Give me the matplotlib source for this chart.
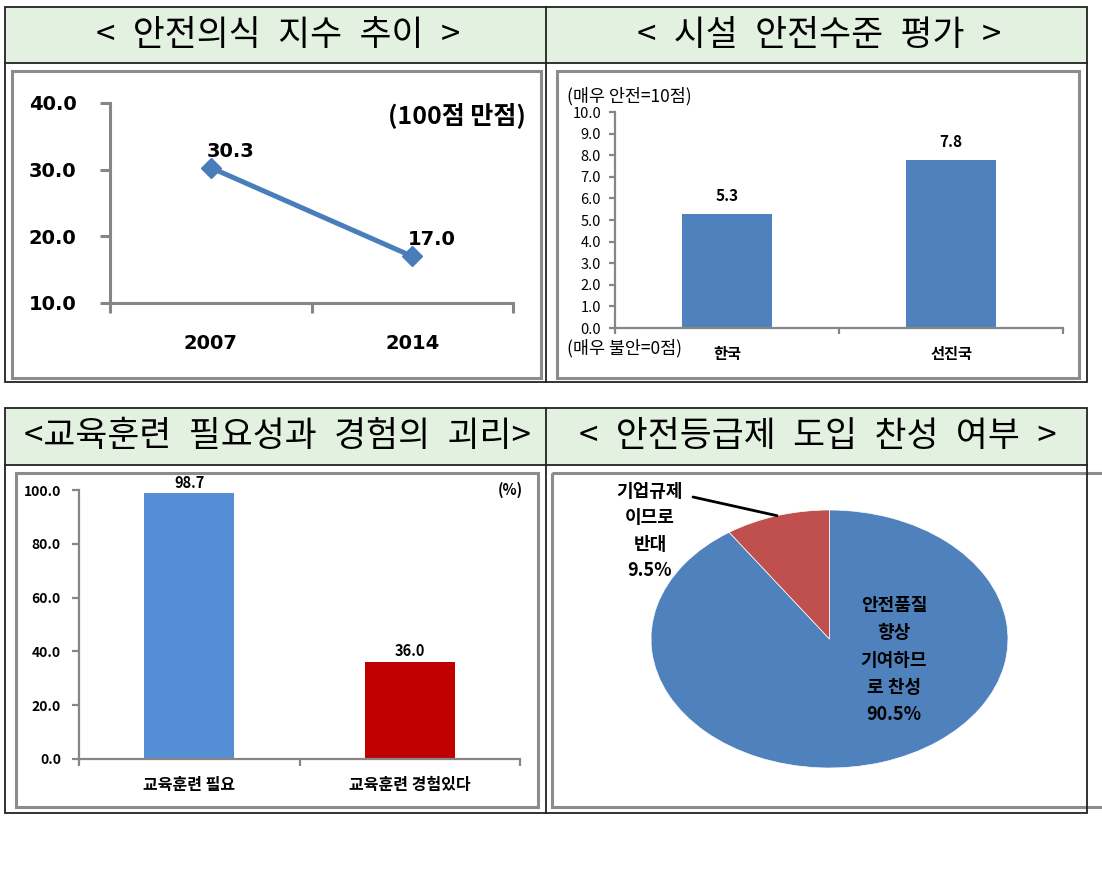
import numpy as np
import matplotlib.pyplot as plt
from matplotlib.patches import Rectangle

plt.rcParams['font.family'] = ['Noto Sans CJK KR', 'DejaVu Sans']

# 안전의식 지수 추이 (100점 만점)
years = ['2007', '2014']
safety_index = [30.3, 17.0]

# 시설 안전수준 평가 (0~10점)
regions = ['한국', '선진국']
facility_score = [5.3, 7.8]

# 교육훈련 필요성과 경험 (%)
training_labels = ['교육훈련 필요', '교육훈련 경험있다']
training_pct = [98.7, 36.0]

# 안전등급제 도입 찬성 여부 (%)
opinion_labels = ['안전품질\n향상\n기여하므\n로 찬성', '기업규제\n이므로\n반대']
opinion_pct = [90.5, 9.5]

W, H = 1102, 871
fig = plt.figure(figsize=(W / 100, H / 100), dpi=100)


def box(x0, y0, x1, y1):
    # axes placed by pixel corners (top-left origin)
    return fig.add_axes([x0 / W, 1 - y1 / H, (x1 - x0) / W, (y1 - y0) / H])


def pixel_layer():
    ax = box(0, 0, W, H)
    ax.set_xlim(0, W)
    ax.set_ylim(H, 0)
    ax.axis('off')
    return ax


bg = pixel_layer()

GREEN = '#E3F1E0'
FRAME = '#8C8C8C'
AXC = '#868686'
LINE = '#222222'
NUM = 'DejaVu Sans'
WIDE = '\u2002'

# table: header bands, grid lines, inner chart frames
for top, mid, bot in [(7, 63, 382), (408, 465, 813)]:
    bg.add_patch(Rectangle((5, top), 1082, mid - top, fc=GREEN, ec='none'))
    bg.add_patch(Rectangle((5, top), 1082, bot - top, fc='none', ec=LINE, lw=1.3, zorder=5))
    bg.plot([5, 1087], [mid, mid], color=LINE, lw=1.3, zorder=5)
    bg.plot([546, 546], [top, bot], color=LINE, lw=1.3, zorder=5)

for x0, y0, x1, y1 in [(12, 71, 541, 378), (557, 71, 1079, 378),
                       (16, 473, 538, 807), (552, 473, 1160, 807)]:
    bg.add_patch(Rectangle((x0, y0), x1 - x0, y1 - y0, fc='none', ec=FRAME, lw=2.2, zorder=4))

titles = [('< 안전의식 지수 추이 >', 278, 35),
          ('< 시설 안전수준 평가 >', 819, 35),
          ('<교육훈련 필요성과 경험의 괴리>', 277, 436),
          ('< 안전등급제 도입 찬성 여부 >', 818, 436)]
for s, x, y in titles:
    bg.text(x, y, s.replace(' ', WIDE), ha='center', va='center', fontsize=25)


def style_axes(ax, lw):
    for side in ['top', 'right']:
        ax.spines[side].set_visible(False)
    for side in ['left', 'bottom']:
        ax.spines[side].set_color(AXC)
        ax.spines[side].set_linewidth(lw)
    ax.set_facecolor('none')


# ---- chart 1: line ----
ax1 = box(110, 103, 513, 303)
style_axes(ax1, 2.2)
x1 = np.arange(len(years))
ax1.plot(x1, safety_index, color='#4A7EBB', lw=3.6, marker='D', ms=10, clip_on=False)
ax1.set_xlim(-0.5, 1.5)
ax1.set_ylim(10, 40)
ax1.set_yticks([10, 20, 30, 40])
ax1.set_yticklabels([f'{v:.1f}' for v in [10, 20, 30, 40]], fontsize=14,
                    fontweight='bold', family=NUM)
ax1.set_xticks([-0.5, 0.5, 1.5])
ax1.set_xticklabels([])
ax1.set_xticks(x1, minor=True)
ax1.set_xticklabels(years, minor=True, fontsize=14, fontweight='bold', family=NUM)
ax1.tick_params(axis='both', which='major', color=AXC, width=2.2, length=7)
ax1.tick_params(axis='y', pad=17)
ax1.tick_params(axis='x', which='minor', length=0, pad=22)
for xi, v in zip(x1, safety_index):
    ax1.annotate(f'{v:.1f}', (xi, v), xytext=(-3, 5), textcoords='offset points',
                 ha='left', va='bottom', fontsize=14, fontweight='bold', family=NUM)
bg.text(526, 116, '(100점 만점)', ha='right', va='center', fontsize=18, fontweight='bold')

# ---- chart 2: bars 0~10 ----
ax2 = box(615, 112, 1063, 328)
style_axes(ax2, 1.6)
x2 = np.arange(len(regions))
ax2.bar(x2, facility_score, width=0.4, color='#4F81BD')
ax2.set_xlim(-0.5, 1.5)
ax2.set_ylim(0, 10)
ticks2 = np.arange(0, 11, 1)
ax2.set_yticks(ticks2)
ax2.set_yticklabels([f'{v:.1f}' for v in ticks2], fontsize=10.5)
ax2.set_xticks([-0.5, 0.5, 1.5])
ax2.set_xticklabels([])
ax2.set_xticks(x2, minor=True)
ax2.set_xticklabels(regions, minor=True, fontsize=11, fontweight='bold')
ax2.tick_params(axis='both', which='major', color=AXC, width=1.6, length=4)
ax2.tick_params(axis='y', pad=6)
ax2.tick_params(axis='x', which='minor', length=0, pad=13)
for xi, v in zip(x2, facility_score):
    ax2.annotate(f'{v:.1f}', (xi, v), xytext=(0, 7), textcoords='offset points',
                 ha='center', va='bottom', fontsize=11, fontweight='bold')
bg.text(567, 96, '(매우 안전=10점)', ha='left', va='center', fontsize=12.5)
bg.text(567, 348, '(매우 불안=0점)', ha='left', va='center', fontsize=12.5)

# ---- chart 3: bars % ----
ax3 = box(79, 490, 520, 759)
style_axes(ax3, 1.6)
x3 = np.arange(len(training_labels))
ax3.bar(x3, training_pct, width=0.41, color=['#558ED5', '#C00000'])
ax3.set_xlim(-0.5, 1.5)
ax3.set_ylim(0, 100)
ticks3 = np.arange(0, 101, 20)
ax3.set_yticks(ticks3)
ax3.set_yticklabels([f'{v:.1f}' for v in ticks3], fontsize=10, fontweight='bold')
ax3.set_xticks([-0.5, 0.5, 1.5])
ax3.set_xticklabels([])
ax3.set_xticks(x3, minor=True)
ax3.set_xticklabels(training_labels, minor=True, fontsize=11.5, fontweight='bold')
ax3.tick_params(axis='both', which='major', color=AXC, width=1.6, length=5)
ax3.tick_params(axis='y', pad=8)
ax3.tick_params(axis='x', which='minor', length=0, pad=13)
for xi, v in zip(x3, training_pct):
    ax3.annotate(f'{v:.1f}', (xi, v), xytext=(0, 2), textcoords='offset points',
                 ha='center', va='bottom', fontsize=10.5, fontweight='bold')
bg.text(523, 490, '(%)', ha='right', va='center', fontsize=10.5, fontweight='bold')

# ---- chart 4: pie (stretched into an ellipse) ----
ax4 = box(651, 510, 1008, 768)
wedges, _ = ax4.pie(opinion_pct, colors=['#4F81BD', '#C0504D'], startangle=90,
                    counterclock=False, radius=1,
                    wedgeprops=dict(edgecolor='white', linewidth=0.5))
ax4.set_aspect('auto')
ax4.set_xlim(-1, 1)
ax4.set_ylim(-1, 1)
ax4.axis('off')

top = pixel_layer()
top.text(894, 660, f'{opinion_labels[0]}\n{opinion_pct[0]}%', ha='center', va='center',
         fontsize=13, fontweight='bold', linespacing=1.55)
top.text(650, 531, f'{opinion_labels[1]}\n{opinion_pct[1]}%', ha='center', va='center',
         fontsize=13, fontweight='bold', linespacing=1.5)
red = wedges[1]
mid = np.deg2rad((red.theta1 + red.theta2) / 2)
ax4.annotate('', xy=(np.cos(mid), np.sin(mid)), xycoords='data',
             xytext=(693, 497), textcoords=bg.transData,
             arrowprops=dict(arrowstyle='-', color='black', lw=2, shrinkA=0, shrinkB=0))

fig.savefig('out.png', dpi=100)
